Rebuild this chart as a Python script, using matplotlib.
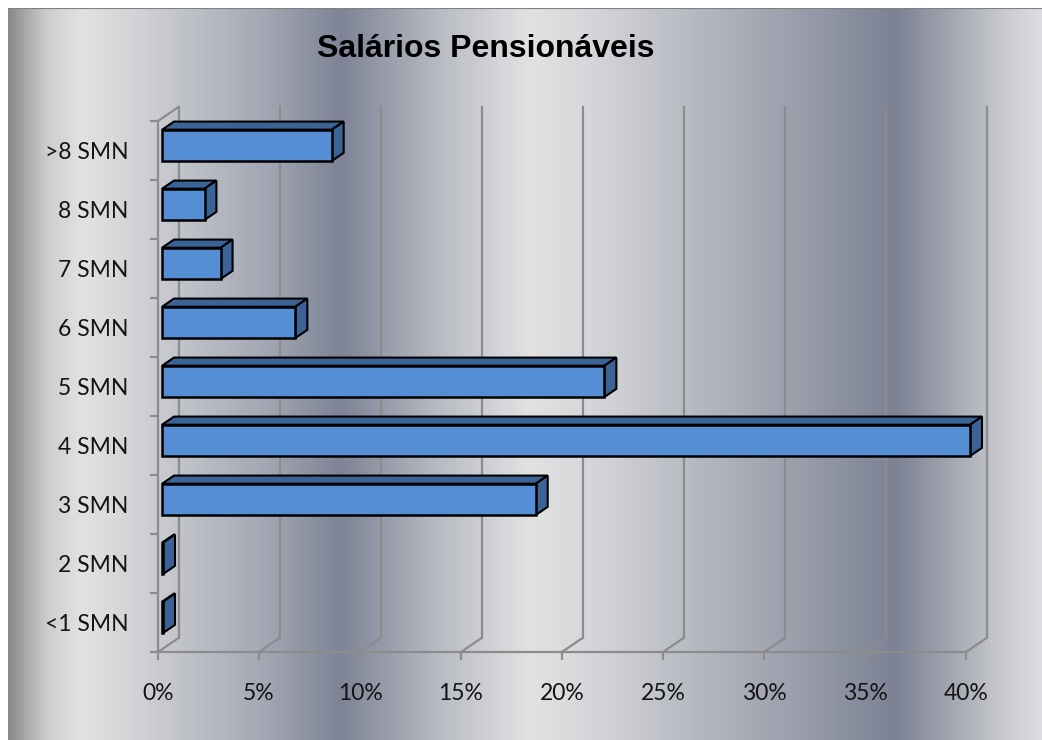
import numpy as np
import matplotlib
matplotlib.use('Agg')
import matplotlib.pyplot as plt
from matplotlib.colors import LinearSegmentedColormap
from matplotlib.patches import Polygon
from matplotlib.transforms import Affine2D

plt.rcParams['font.family'] = ['Lato', 'DejaVu Sans']

categories = ['<1 SMN', '2 SMN', '3 SMN', '4 SMN', '5 SMN', '6 SMN', '7 SMN', '8 SMN', '>8 SMN']
values = [0.05, 0.05, 18.5, 40.0, 21.9, 6.6, 2.9, 2.1, 8.4]
xticks = [0, 5, 10, 15, 20, 25, 30, 35, 40]
xticklabels = ['0%', '5%', '10%', '15%', '20%', '25%', '30%', '35%', '40%']
title = 'Salários Pensionáveis'

# metallic background (pixel x, colour)
bg_stops = [(8, '#8a8a8a'), (22, '#a6a6a6'), (45, '#cdcdcd'), (80, '#e2e2e2'),
            (130, '#d3d4d7'), (185, '#c0c2c9'), (265, '#a3a7b3'), (340, '#7e8496'),
            (370, '#8f94a3'), (440, '#b9bcc4'), (530, '#e2e2e3'), (600, '#d3d4d8'),
            (700, '#b5b8c0'), (800, '#9a9eab'), (898, '#7c8294'), (950, '#a2a5b0'),
            (1005, '#c9cace'), (1042, '#dcdde0')]

W, H = 1042, 740
fig = plt.figure(figsize=(W / 100, H / 100), dpi=100)
fig.patch.set_facecolor('white')

bg = fig.add_axes([8 / W, 0, 1 - 8 / W, (H - 8) / H], zorder=-5)
pos = [(p - 8) / (W - 8) for p, c in bg_stops]
cmap = LinearSegmentedColormap.from_list('metal', list(zip(pos, [c for p, c in bg_stops])))
bg.imshow(np.linspace(0, 1, 512)[None, :], aspect='auto', cmap=cmap, extent=[0, 1, 0, 1])
bg.axhline(1, color='#808080', lw=1.5)
bg.set_axis_off()

# front plane of the plot
ax = fig.add_axes([158 / W, (H - 652) / H, (966 - 158) / W, (652 - 121) / H])
ax.set_xlim(0, 40)
ax.set_ylim(0, len(categories))
ax.patch.set_visible(False)

grid_c = '#8c8c8c'
depth = np.array([20.5, 14.0])  # wall depth in display px


def shifted(f):
    return ax.transData + Affine2D().translate(*(depth * f))


back = shifted(1.0)
n = len(categories)
for v in xticks:
    ax.plot([v, v], [0, n], color=grid_c, lw=1.6, transform=back, zorder=1, clip_on=False)
    p0 = ax.transData.transform((v, 0))
    p1 = back.transform((v, 0))
    ax.add_line(plt.Line2D([p0[0], p1[0]], [p0[1], p1[1]], color=grid_c, lw=1.6,
                           transform=None, zorder=1, clip_on=False))
p0 = ax.transData.transform((0, n))
p1 = back.transform((0, n))
ax.add_line(plt.Line2D([p0[0], p1[0]], [p0[1], p1[1]], color=grid_c, lw=1.6,
                       transform=None, zorder=1, clip_on=False))

# 3D bars
front_c = '#558ed5'
side_c = '#3b6396'
f0, f1 = 0.2, 0.78
h = 0.53
for i, v in enumerate(values):
    yb = i + 0.54 - h / 2
    yt = yb + h
    tf = ax.transData
    a = tf.transform([(0, yb), (v, yb), (v, yt), (0, yt)]) + depth * f0
    d = depth * (f1 - f0)
    top = [a[3], a[2], a[2] + d, a[3] + d]
    side = [a[1], a[1] + d, a[2] + d, a[2]]
    for poly in (top, side):
        ax.add_patch(Polygon(poly, closed=True, facecolor=side_c, edgecolor='black',
                             lw=1.5, transform=None, zorder=3, joinstyle='miter',
                             clip_on=False))
    ax.add_patch(Polygon(a, closed=True, facecolor=front_c, edgecolor='black',
                         lw=1.8, transform=None, zorder=4, joinstyle='miter',
                         clip_on=False))

# axes, ticks and labels
for s in ['top', 'right']:
    ax.spines[s].set_visible(False)
for s in ['left', 'bottom']:
    ax.spines[s].set_color(grid_c)
    ax.spines[s].set_linewidth(1.6)

ax.set_xticks(xticks)
ax.set_xticklabels(xticklabels, fontsize=16.5, color='#141414')
ax.set_yticks(range(n + 1))
ax.set_yticklabels([])
ax.set_yticks(np.arange(n) + 0.5, minor=True)
ax.set_yticklabels(categories, minor=True, fontsize=16.5, color='#141414')
ax.tick_params(axis='both', which='major', length=6, width=1.6, color=grid_c, direction='out')
ax.tick_params(axis='x', pad=16)
ax.tick_params(axis='y', which='minor', length=0, pad=21)

fig.text(486 / W, 1 - 49 / H, title, fontsize=23, fontweight='bold',
         family=['Liberation Sans', 'DejaVu Sans'], ha='center', va='center')

fig.savefig('out.png', dpi=100)
